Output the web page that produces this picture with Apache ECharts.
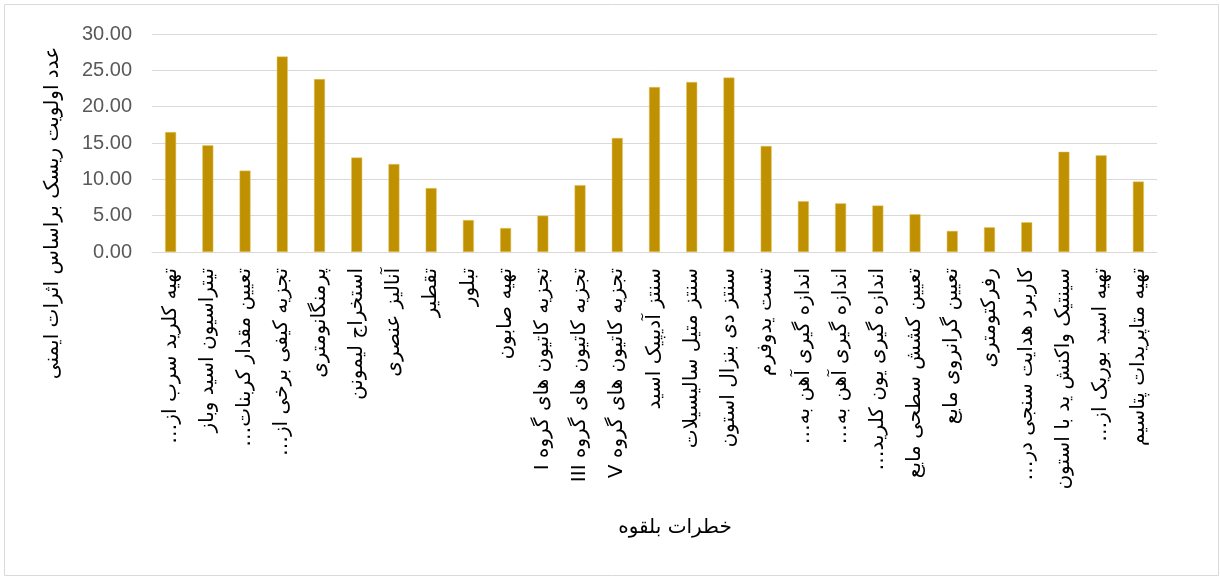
<!DOCTYPE html>
<html>
<head>
<meta charset="utf-8">
<script src="https://cdn.jsdelivr.net/npm/echarts@6/dist/echarts.min.js"></script>
<style>
  html, body { margin: 0; padding: 0; background: #fff; }
  #main { width: 1220px; height: 577px; }
</style>
</head>
<body>
<div id="main"></div>
<script>
// categories, left to right
const categories = [
  "تهیه کلرید سرب از…",
  "تیتراسیون اسید وباز",
  "تعیین مقدار کربنات…",
  "تجزیه کیفی برخی از…",
  "پرمنگانومتری",
  "استخراج لیمونن",
  "آنالیز عنصری",
  "تقطیر",
  "تبلور",
  "تهیه صابون",
  "تجزیه کاتیون های گروه I",
  "تجزیه کاتیون های گروه III",
  "تجزیه کاتیون های گروه V",
  "سنتز آدیپیک اسید",
  "سنتز متیل سالیسیلات",
  "سنتز دی بنزال استون",
  "تست یدوفرم",
  "اندازه گیری آهن به…",
  "اندازه گیری آهن به…",
  "اندازه گیری یون کلرید…",
  "تعیین کشش سطحی مایع",
  "تعیین گرانروی مایع",
  "رفرکتومتری",
  "کاربرد هدایت سنجی در…",
  "سینتیک واکنش ید با استون",
  "تهیه اسید بوریک از…",
  "تهیه متاپریدات پتاسیم"
];
const riskValues = [16.5, 14.7, 11.2, 26.9, 23.8, 13.0, 12.1, 8.8, 4.4, 3.3, 5.0, 9.2, 15.7,
  22.7, 23.4, 24.0, 14.6, 7.0, 6.7, 6.4, 5.2, 2.9, 3.4, 4.1, 13.8, 13.3, 9.7];
const yMin = 0, yMax = 30, yStep = 5;
const yTitle = "عدد اولویت ریسک براساس اثرات ایمنی";
const xTitle = "خطرات بلقوه";

const chart = echarts.init(document.getElementById("main"));
chart.setOption({
  animation: false,
  grid: { left: 152, right: 63, top: 34, bottom: 325, containLabel: false },
  graphic: [
    {
      type: "rect",
      shape: { x: 4.5, y: 4.5, width: 1214, height: 571 },
      style: { fill: "none", stroke: "#d9d9d9", lineWidth: 1 },
      silent: true
    },
    {
      type: "text",
      x: 53, y: 213,
      rotation: Math.PI / 2,
      style: {
        text: "\u202B" + yTitle + "\u202C",
        font: "20px 'DejaVu Sans'",
        fill: "#000",
        align: "center",
        verticalAlign: "middle"
      }
    },
    {
      type: "text",
      x: 675, y: 528,
      style: {
        text: "\u202B" + xTitle + "\u202C",
        font: "20px 'DejaVu Sans'",
        fill: "#000",
        align: "center",
        verticalAlign: "middle"
      }
    }
  ],
  xAxis: {
    type: "category",
    data: categories,
    axisLine: { lineStyle: { color: "#d9d9d9", width: 1 } },
    axisTick: { show: false },
    axisLabel: {
      interval: 0,
      rotate: 90,
      margin: 16,
      padding: [8, 0, 0, 0],
      color: "#000",
      fontSize: 20,
      fontFamily: "DejaVu Sans",
      formatter: function (v) { return "\u202B" + v + "\u202C"; }
    }
  },
  yAxis: {
    type: "value",
    min: yMin,
    max: yMax,
    interval: yStep,
    axisLine: { show: false },
    axisTick: { show: false },
    splitLine: { lineStyle: { color: "#d9d9d9", width: 1 } },
    axisLabel: {
      margin: 20,
      color: "#595959",
      fontSize: 20,
      fontFamily: "Liberation Sans",
      formatter: function (v) { return v.toFixed(2); }
    }
  },
  series: [
    {
      type: "bar",
      data: riskValues,
      barWidth: 11,
      itemStyle: { color: "#bf9000", borderColor: "#e6c766", borderWidth: 0.5 }
    }
  ]
});
</script>
</body>
</html>
